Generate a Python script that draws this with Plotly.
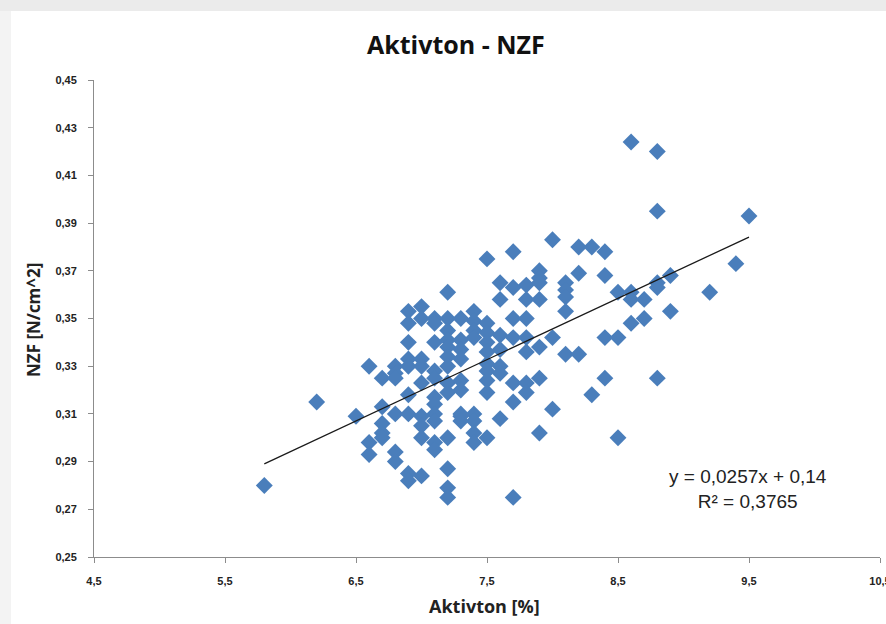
import plotly.graph_objects as go

# ---- data ----
aktivton = (
    [5.8, 6.2, 6.5]
    + [6.6] * 3 + [6.7] * 5 + [6.8] * 6 + [6.9] * 9 + [7.0] * 9 + [7.1] * 11
    + [7.2] * 13 + [7.3] * 9 + [7.4] * 8 + [7.5] * 10 + [7.6] * 7 + [7.7] * 7
    + [7.8] * 7 + [7.9] * 7 + [8.0] * 3 + [8.1] * 5 + [8.2] * 3 + [8.3] * 2
    + [8.4] * 4 + [8.5] * 3 + [8.6] * 4 + [8.7] * 2 + [8.8] * 5 + [8.9] * 2
    + [9.2, 9.4, 9.5]
)
nzf = [
    0.280, 0.315, 0.309,
    0.330, 0.298, 0.293,
    0.325, 0.313, 0.306, 0.302, 0.300,
    0.330, 0.327, 0.325, 0.310, 0.294, 0.290,
    0.353, 0.348, 0.340, 0.333, 0.330, 0.318, 0.310, 0.285, 0.282,
    0.355, 0.350, 0.333, 0.330, 0.323, 0.309, 0.305, 0.300, 0.284,
    0.350, 0.348, 0.340, 0.328, 0.325, 0.317, 0.314, 0.310, 0.307, 0.298, 0.295,
    0.361, 0.350, 0.345, 0.341, 0.338, 0.334, 0.330, 0.323, 0.319, 0.300, 0.287, 0.279, 0.275,
    0.350, 0.341, 0.337, 0.333, 0.324, 0.320, 0.310, 0.309, 0.307,
    0.353, 0.349, 0.345, 0.342, 0.310, 0.307, 0.302, 0.298,
    0.375, 0.348, 0.344, 0.340, 0.336, 0.331, 0.328, 0.324, 0.319, 0.300,
    0.365, 0.358, 0.343, 0.337, 0.330, 0.327, 0.308,
    0.378, 0.363, 0.350, 0.342, 0.323, 0.315, 0.275,
    0.364, 0.358, 0.350, 0.342, 0.336, 0.323, 0.319,
    0.370, 0.367, 0.365, 0.358, 0.338, 0.325, 0.302,
    0.383, 0.342, 0.312,
    0.365, 0.362, 0.359, 0.353, 0.335,
    0.380, 0.369, 0.335,
    0.380, 0.318,
    0.378, 0.368, 0.342, 0.325,
    0.361, 0.342, 0.300,
    0.424, 0.361, 0.358, 0.348,
    0.358, 0.350,
    0.420, 0.395, 0.365, 0.363, 0.325,
    0.368, 0.353,
    0.361, 0.373, 0.393,
]

trend_slope = 0.0257
trend_intercept = 0.14
r_squared = 0.3765

x_ticks = [4.5, 5.5, 6.5, 7.5, 8.5, 9.5, 10.5]
y_ticks = [0.25, 0.27, 0.29, 0.31, 0.33, 0.35, 0.37, 0.39, 0.41, 0.43, 0.45]

title_text = "Aktivton - NZF"
x_title = "Aktivton [%]"
y_title = "NZF [N/cm^2]"

# ---- figure ----
W, H = 886, 624
L, R, T, B = 94, 6, 80, 67
pw, ph = W - L - R, H - T - B


def px(xp):
    return (xp - L) / pw


def py(yp):
    return (H - B - yp) / ph


tx = [min(aktivton), max(aktivton)]
ty = [trend_slope * v + trend_intercept for v in tx]

fig = go.Figure()
fig.add_trace(go.Scatter(
    x=aktivton, y=nzf, mode="markers",
    marker=dict(symbol="diamond", size=13, color="#4a7ebb",
                line=dict(width=0)),
    hoverinfo="x+y", showlegend=False,
))
fig.add_trace(go.Scatter(
    x=tx, y=ty, mode="lines",
    line=dict(color="#1a1a1a", width=1.3),
    hoverinfo="skip", showlegend=False,
))

axis_font = dict(family="Liberation Sans Narrow, Liberation Sans, Arial",
                 size=11, color="#222222", weight="bold")

fig.update_xaxes(
    range=[4.5, 10.5], tickvals=x_ticks, tickformat=".1f",
    showgrid=False, zeroline=False, showline=True, linecolor="#8c8c8c",
    linewidth=1, ticks="outside", ticklen=5, tickcolor="#8c8c8c",
    tickfont=axis_font, ticklabeloverflow="allow", automargin=False,
    ticklabelstandoff=9,
)
fig.update_yaxes(
    range=[0.25, 0.45], tickvals=y_ticks, tickformat=".2f",
    showgrid=False, zeroline=False, showline=True, linecolor="#8c8c8c",
    linewidth=1, ticks="outside", ticklen=5, tickcolor="#8c8c8c",
    tickfont=axis_font, ticklabeloverflow="allow", automargin=False,
    ticklabelstandoff=9,
)

shapes = [
    # top shadow band
    dict(type="rect", xref="paper", yref="paper", layer="below",
         x0=px(-10), x1=px(W + 10), y0=py(11), y1=py(-10),
         fillcolor="#ebebeb", line=dict(width=0)),
    # white card
    dict(type="rect", xref="paper", yref="paper", layer="below",
         x0=px(11), x1=px(W + 30), y0=py(H + 30), y1=py(11),
         fillcolor="white", line=dict(width=0)),
]

eq_text = "y = %sx + %s<br>R² = %s" % (
    str(trend_slope).replace(".", ","),
    str(trend_intercept).replace(".", ","),
    str(r_squared).replace(".", ","))

annotations = [
    dict(text="<b>" + title_text + "</b>", xref="paper", yref="paper",
         x=px(456), y=py(44), xanchor="center", yanchor="middle",
         showarrow=False,
         font=dict(family="Open Sans, Liberation Sans", size=25, color="#111111")),
    dict(text="<b>" + x_title + "</b>", xref="paper", yref="paper",
         x=px(484), y=py(606), xanchor="center", yanchor="middle",
         showarrow=False,
         font=dict(family="Open Sans, Liberation Sans", size=18, color="#222222")),
    dict(text="<b>" + y_title + "</b>", xref="paper", yref="paper",
         x=px(33), y=py(320), xanchor="center", yanchor="middle",
         textangle=-90, showarrow=False,
         font=dict(family="Open Sans, Liberation Sans", size=17, color="#222222")),
    dict(text=eq_text,
         xref="paper", yref="paper", x=px(748), y=py(489),
         xanchor="center", yanchor="middle", align="center", showarrow=False,
         font=dict(family="Liberation Sans, Arial", size=19, color="#222222")),
]

fig.update_layout(
    width=W, height=H,
    margin=dict(l=L, r=R, t=T, b=B, pad=0, autoexpand=False),
    paper_bgcolor="#f3f3f3", plot_bgcolor="rgba(0,0,0,0)",
    separators=", ",
    shapes=shapes, annotations=annotations,
    showlegend=False,
)

fig.write_html("out.html")
